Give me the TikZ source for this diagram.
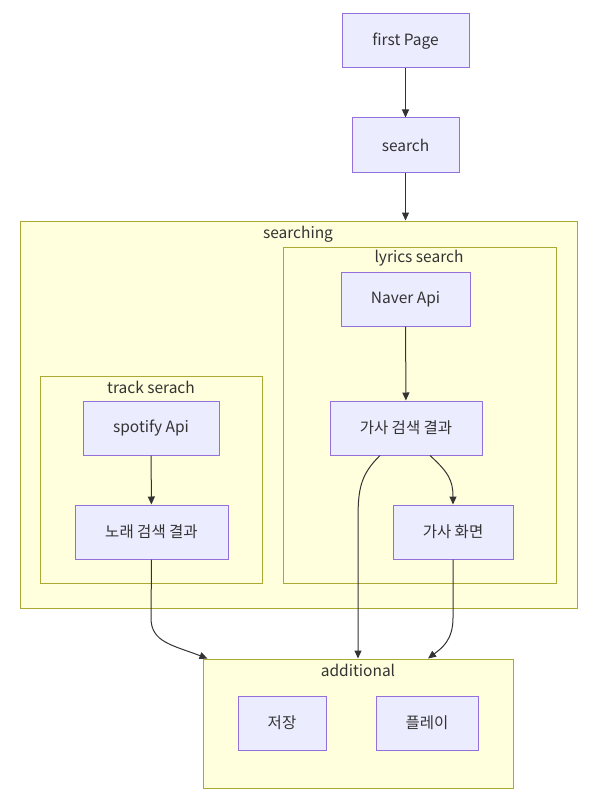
\documentclass[tikz,border=0pt]{standalone}
\usepackage{fontspec}
\setmainfont{Noto Sans CJK KR}
\usepackage{tikz}
\usetikzlibrary{arrows.meta}

\definecolor{boxfill}{HTML}{ECECFF}
\definecolor{boxline}{HTML}{9370DB}
\definecolor{grpfill}{HTML}{FFFFDE}
\definecolor{grpline}{HTML}{AAAA33}
\definecolor{ink}{HTML}{333333}

\tikzset{
  box/.style={draw=boxline, fill=boxfill, line width=1pt, minimum height=54pt,
    inner sep=0pt, text=ink, font=\fontsize{15.5}{18}\selectfont},
  grp/.style={draw=grpline, fill=grpfill, line width=1pt, inner sep=0pt},
  grplabel/.style={text=ink, font=\fontsize{15.5}{18}\selectfont, inner sep=0pt},
  edge/.style={draw=ink, line width=1pt, -{Triangle[length=8pt,width=7pt]}}
}

\begin{document}
\begin{tikzpicture}[x=1pt, y=-1pt]
            \useasboundingbox (0,0) rectangle (591,797);
            % groups
            \node[grp, minimum width=557pt, minimum height=387pt] (searching) at (298.5, 414.5) {};
            \node[grplabel] (searchingl) at (298, 234) {searching};
            \node[grp, minimum width=273pt, minimum height=336pt] (lyrics) at (419.5, 415) {};
            \node[grplabel] (lyricsl) at (419, 258) {lyrics search};
            \node[grp, minimum width=222pt, minimum height=207pt] (track) at (151, 479.5) {};
            \node[grplabel] (trackl) at (151, 387) {track serach};
            \node[grp, minimum width=310pt, minimum height=129pt] (additional) at (358, 723.5) {};
            \node[grplabel] (additionall) at (358, 670) {additional};
            % nodes
            \node[box, minimum width=127pt] (first) at (405.5, 41) {first Page};
            \node[box, minimum width=107pt] (search) at (405.5, 145) {search};
            \node[box, minimum width=129pt] (naver) at (405.5, 299) {Naver Api};
            \node[box, minimum width=152pt] (lres) at (406, 428) {가사 검색 결과};
            \node[box, minimum width=120pt] (lscreen) at (453, 532) {가사 화면};
            \node[box, minimum width=136pt] (spotify) at (151, 428) {spotify Api};
            \node[box, minimum width=153pt] (tres) at (151.5, 532) {노래 검색 결과};
            \node[box, minimum width=88pt] (save) at (282, 723) {저장};
            \node[box, minimum width=102pt] (play) at (427, 723) {플레이};
            % edges
            \draw[edge] (first) -- (search);
            \draw[edge] (search.south) to (searching.north -| search.south);
            \draw[edge] (naver) -- (lres);
            \draw[edge] (spotify) -- (tres);
            \draw[edge] ([xshift=24pt]lres.south) .. controls (448,472) and (453,480) .. (lscreen.north);
            \draw[edge] ([xshift=-26pt]lres.south) .. controls (360,475) and (358,490) .. (358,520) -- (additional.north);
            \draw[edge] (tres.south) -- (151,618) .. controls (151,642) and (172,645) .. ([xshift=5pt]additional.north west);
            \draw[edge] (lscreen.south) -- (453,618) .. controls (453,640) and (442,648) .. ([xshift=70pt]additional.north);
        \end{tikzpicture}
\end{document}
